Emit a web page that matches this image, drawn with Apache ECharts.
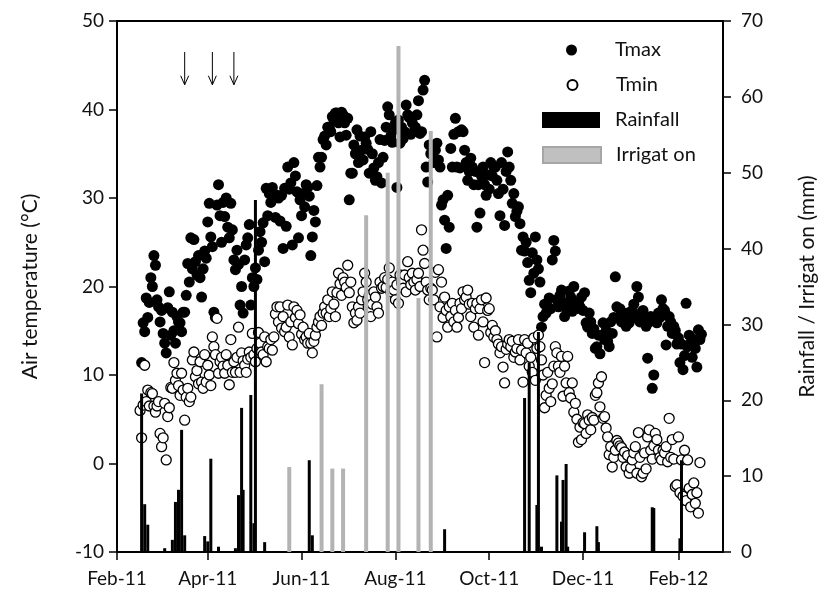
<!DOCTYPE html>
<html><head><meta charset="utf-8">
<script src="https://cdn.jsdelivr.net/npm/echarts@6/dist/echarts.min.js"></script>
<style>html,body{margin:0;padding:0;background:#fff}#c{width:827px;height:600px}</style>
</head><body><div id="c"></div>
<script>
// Day offsets are counted from 1 Feb 2011
const xTickDays = [0, 59, 120, 181, 242, 303, 365];
const xTickLabels = ['Feb-11', 'Apr-11', 'Jun-11', 'Aug-11', 'Oct-11', 'Dec-11', 'Feb-12'];
const xMaxDay = 394;

const tmaxStartDay = 16;
const tmax = [
  11.4, 15.9, 14.9, 18.7, 16.5, 18.2, 21, 20, 23.5, 22.4,
  18.5, 17.7, 16, 17.3, 14.7, 13.6, 12.5, 17.6, 19.4, 14.5,
  17.1, 15, 13.6, 16.6, 16, 15.9, 14.9, 17.1, 17.1, 19,
  22.6, 20.5, 25.5, 22, 25.3, 22.8, 21.3, 23.5, 21, 18.8,
  22, 24, 23.2, 27.3, 29.4, 25.6, 24.5, 17.1, 16.5, 29.2,
  31.5, 28, 25, 29.5, 27.9, 30, 26.7, 25.5, 29.4, 26.4,
  23, 21.9, 24.1, 22.5, 17.9, 20, 17, 23, 24.7, 25.5,
  27, 17.9, 21, 20, 22.1, 20.8, 24.1, 26.2, 25, 27.2,
  22.8, 31.1, 28, 30.5, 29.5, 31.2, 30, 27.8, 30.3,
  30, 27.4, 30.3, 24.3, 31.1, 26.8, 33.5, 31, 31.7, 24.7,
  34, 32.5, 30.7, 25.5, 29.8, 28, 30.5, 29, 31.5, 31.2,
  30.2, 23.5, 25.6, 28.6, 27.3, 31.4, 34.6, 33.5, 34.6, 36.6,
  37, 36, 38, 38, 37.5, 39.2, 38.8, 39.6, 39.6, 38.5,
  36.9, 39.7, 39.4, 38.5, 37.1, 39, 29.8, 32.8, 32.8, 36,
  35, 37.7, 34, 37, 35.4, 34.3, 36.9, 36.2, 35.5, 32.8,
  37.5, 35, 33.4, 32, 32.4, 34, 36.6, 31.7, 34.6, 36.5,
  38, 40.3, 39.4, 37, 36.3, 37.7, 38.5, 31.2, 38.8, 36.2,
  38, 36.7, 37.5, 40.5, 39.4, 39.1, 37.2, 38.5, 37.5, 38,
  39.4, 41, 37.3, 37.5, 42.2, 43.3, 33.5, 31.8, 36, 35,
  35.8, 34, 35.4, 36.2, 34.3, 33.5, 29.2, 29.8, 27.5, 24.3,
  30.3, 26.7, 35.6, 33.5, 37.2, 39, 33.5, 37.5, 33.4, 37.7,
  37.5, 35.4, 34, 32, 33, 34.5, 33.5, 31.5, 33, 26.7,
  31.5, 28.3, 32.5, 33.5, 31.5, 30.3, 32.6, 31, 34, 32.5,
  33.5, 33.5, 32, 30.5, 28, 34, 31, 26.9, 33, 35.2,
  33.5, 32, 29.4, 30.5, 27.9, 28.5, 29, 27.1, 24.1, 25.6,
  24, 25, 22.7, 20.7, 19.3, 23.8, 21.5, 25.6, 23, 22,
  20.5, 15.4, 16.6, 18, 17, 17.7, 18.7, 17.5, 23, 25.2,
  24, 18.5, 17.7, 19, 19.6, 18.2, 16.6, 17.5, 18, 19.5,
  18.8, 17.2, 20, 18, 17.5, 18.2, 17.7, 18.8, 17.3, 19.3,
  15.9, 15.4, 17, 16, 14.7, 15.2, 13, 13.2, 14.5, 12.4,
  14.5, 15.9, 14, 15, 13.8, 13.2, 16, 14.7, 16.5, 21.1,
  17.7, 16.5, 17.5, 16, 17, 16.2, 15.5, 17, 15.9, 16.8,
  17.3, 18, 16.5, 20, 18.8, 16, 17, 17.3, 16.5, 15.5,
  11.9, 16, 16.6, 8.5, 10, 16.2, 15.9, 17, 16.5, 18.5,
  17.5, 17.3, 13.4, 15.5, 16.6, 16, 14.7, 15.5, 15, 13.5,
  14.2, 11.4, 13.5, 10.6, 12.2, 18.1, 13.2, 14.5, 13.6, 12,
  14, 13, 10.9, 15.1, 14, 14.6
];

const tminStartDay = 15;
const tmin = [
  6, 2.9, 6.6, 11.1, 7, 8.3, 6.5, 8, 7.9, 6.5,
  5.8, 6.5, 7, 3.4, 1.9, 2.9, 6.8, 0.4, 5.3, 6.3,
  8.6, 8.5, 11.4, 9.4, 10.2, 8.8, 7.7, 10.2, 8.3, 4.9,
  7.5, 8.5, 7, 7.5, 11.7, 12.6, 9.8, 10.5, 9, 11.5,
  9.2, 8.5, 12.3, 9.2, 11.1, 10, 8.8, 14.3, 13.2, 12.3,
  16.4, 10.2, 11.5, 12, 11, 10.2, 12.3, 11.1, 8.9, 14,
  10.3, 11.5, 10.3, 12, 15.4, 10.3, 12.5, 11.6, 11.1, 10.3,
  11.8, 12.6, 12, 14.7, 12.3, 11.5, 13, 14.8, 13.6, 12.6,
  12.3, 14.3, 11.5, 13.2, 13, 14, 12.8, 14.3, 16.9, 17.7,
  16, 17.7, 15.3, 16.6, 14.9, 15.4, 17.9, 14.3, 16, 13.4,
  17.7, 16.5, 17.3, 15.8, 16.8, 14.6, 15.4, 14, 14.3, 13.6,
  14.7, 13.6, 12.5, 13.8, 14.5, 15.4, 16, 16.6, 15.6, 17,
  17.7, 17, 18.5, 16.6, 17.5, 19.4, 18, 16.6, 19.3, 21.5,
  20.3, 19, 21, 20.5, 19.9, 22.4, 19.3, 20.5, 17.7, 15.9,
  17, 16.2, 17.7, 17, 18.5, 19.4, 21.5, 20.5, 18.5, 19,
  16.6, 18, 19.4, 18.8, 17.7, 17, 20.5, 19.8, 20, 21,
  19.9, 20.8, 22.1, 19.4, 20.5, 19.6, 18.5, 20.2, 18.1, 21.3,
  20.4, 19.8, 21.3, 19.4, 22.8, 21, 20.2, 21.5, 20.5, 19.6,
  20.8, 21.5, 20, 26.4, 24.1, 22.6, 20.5, 19.6, 18.5, 19.8,
  19.6, 18.5, 21.6, 14.3, 21.9, 17.7, 20.5, 16.5, 18.8, 17.3,
  15.4, 17.7, 16.6, 18.1, 16, 17.3, 15.4, 16.5, 18.1, 17.5,
  19.4, 18.5, 18.8, 19.6, 18, 16.6, 18.1, 15.4, 17.5, 18.1,
  14.5, 17.5, 18.5, 16, 11.4, 18.7, 17.3, 17.5, 14.8, 15.6,
  14.3, 15, 14, 13.5, 12.5, 13.2, 10.9, 9.1, 12.9, 13.5,
  14, 13.2, 13.8, 12, 12.6, 13, 14, 11.7, 12.8, 9.2,
  14, 12.5, 13.6, 11, 12, 10.3, 14.2, 9.4, 13, 14.5,
  13.2, 11.7, 10, 6.3, 7.7, 10.3, 8.5, 7, 9, 11,
  13.2, 12.5, 11, 10.3, 12.1, 7.6, 11, 9.1, 12.1, 8,
  7.4, 9.1, 5.8, 6.8, 5, 2.4, 4.1, 2.7, 4.6, 4.5,
  3.4, 5.5, 4.9, 3.8, 5.2, 4.9, 7.7, 8, 9.1, 6.4,
  9.8, 5.1, 5.3, 4, 3, 1, 1.9, -0.4, 0.7, 1.5,
  2.6, 2.3, 2, 1.8, 0.7, 1.3, -0.4, 0.9, -1.1, -0.5,
  0.4, 1.2, 1.9, -1.1, 3.5, 0.7, -1.5, -1.1, 1.2, -0.6,
  3, 3.8, 1.5, 0.5, 2, 3.4, 2.7, 1.5, 0.7, 0.4,
  1.5, 1.2, 1.9, 0.2, 5.1, 0.7, 2.7, 0.5, -2.6, -2.4,
  3, -3.3, 0.4, -3.7, 1.5, -4.2, 0.4, -2.8, -4.9, -3.5,
  -2.2, -4.5, -3.3, -5.6, 0.1
];

const rainDays = [16, 18, 20, 31, 36, 38, 40, 42, 44, 57, 59, 61, 66, 77, 79, 81, 82, 87, 89, 90, 96,
  125, 127, 213, 265, 268, 273, 274, 276, 286, 289, 290, 292, 293, 304, 312, 313, 348, 349, 366, 367];
const rainMm = [20.9, 6.3, 3.6, 0.5, 1.6, 6.6, 8.2, 16.1, 2.2, 2.1, 1.4, 12.3, 0.7, 0.5, 7.5, 19, 8.2, 20.7, 3.8, 46.4, 1.3,
  12.1, 2.2, 3, 20.3, 25, 6.2, 29, 0.7, 10.1, 4, 9.5, 11.6, 0.7, 2.6, 3.4, 1.3, 5.9, 5.8, 1.8, 12.1];

const irrDays = [112, 133, 140, 147, 162, 176, 183, 196, 204];
const irrMm = [11.2, 22.1, 11, 11, 44.4, 50, 66.7, 33.5, 55.5];

const arrowDays = [44, 62, 76];
const arrowTemps = [46.5, 42.8]; // top, tip

const FONT = 'Lato';
const TXT = '#111';

const tmaxData = tmax.map((v, i) => [tmaxStartDay + i, v]);
const tminData = tmin.map((v, i) => [tminStartDay + i, v]);
const rainData = rainDays.map((d, i) => [d, rainMm[i]]);
const irrData = irrDays.map((d, i) => [d, irrMm[i]]);

const chart = echarts.init(document.getElementById('c'), null, {renderer: 'canvas'});

const legendBase = {
  orient: 'vertical', padding: 0, selectedMode: false,
  textStyle: {fontFamily: FONT, fontSize: 20, color: TXT, lineHeight: 20}
};

chart.setOption({
  animation: false,
  backgroundColor: '#fff',
  grid: {left: 117, right: 104, top: 21, bottom: 48, show: true, borderColor: '#000', borderWidth: 2, backgroundColor: 'transparent'},
  legend: [
    Object.assign({}, legendBase, {data: [{name: 'Tmax', icon: 'circle'}], left: 566, top: 40, itemWidth: 11, itemHeight: 11,
      textStyle: Object.assign({}, legendBase.textStyle, {padding: [0, 0, 0, 33]})}),
    Object.assign({}, legendBase, {data: [{name: 'Tmin', icon: 'circle'}], left: 566.5, top: 75, itemWidth: 10, itemHeight: 10,
      textStyle: Object.assign({}, legendBase.textStyle, {padding: [0, 0, 0, 33.5]})}),
    Object.assign({}, legendBase, {data: [{name: 'Rainfall', icon: 'rect'}], left: 542, top: 110, itemWidth: 58, itemHeight: 16,
      textStyle: Object.assign({}, legendBase.textStyle, {padding: [0, 0, 0, 10]})}),
    Object.assign({}, legendBase, {data: [{name: 'Irrigat on', icon: 'rect', itemStyle: {color: '#c0c0c0', borderColor: '#a6a6a6', borderWidth: 2}}],
      left: 542, top: 145, itemWidth: 58, itemHeight: 16,
      textStyle: Object.assign({}, legendBase.textStyle, {padding: [0, 0, 0, 10]})})
  ],
  xAxis: [{
    type: 'value', min: 0, max: xMaxDay,
    axisLine: {show: true, onZero: false, lineStyle: {color: '#000', width: 2}},
    axisTick: {show: true, inside: false, length: 8, lineStyle: {color: '#000', width: 1.5}, customValues: xTickDays},
    axisLabel: {customValues: xTickDays, formatter: v => xTickLabels[xTickDays.indexOf(v)] || '',
      fontFamily: FONT, fontSize: 19, color: TXT, margin: 17},
    splitLine: {show: false}
  }, {
    type: 'value', min: 0, max: xMaxDay, show: false
  }],
  yAxis: [{
    type: 'value', min: -10, max: 50, interval: 10, position: 'left',
    name: 'Air temperature (°C)', nameLocation: 'middle', nameGap: 76, nameRotate: 90,
    nameTextStyle: {fontFamily: FONT, fontSize: 21, color: TXT},
    axisLine: {show: true, onZero: false, lineStyle: {color: '#000', width: 2}},
    axisTick: {show: true, inside: false, length: 8, lineStyle: {color: '#000', width: 1.5}},
    axisLabel: {fontFamily: FONT, fontSize: 19, color: TXT, margin: 13},
    splitLine: {show: false}
  }, {
    type: 'value', min: 0, max: 70, interval: 10, position: 'right',
    name: 'Rainfall / Irrigat on (mm)', nameLocation: 'middle', nameGap: 74, nameRotate: 90,
    nameTextStyle: {fontFamily: FONT, fontSize: 21, color: TXT},
    axisLine: {show: true, onZero: false, lineStyle: {color: '#000', width: 2}},
    axisTick: {show: true, inside: false, length: 8, lineStyle: {color: '#000', width: 1.5}},
    axisLabel: {fontFamily: FONT, fontSize: 19, color: TXT, margin: 18},
    splitLine: {show: false}
  }],
  series: [
    {name: 'Tmax', type: 'scatter', xAxisIndex: 0, yAxisIndex: 0, symbol: 'circle', symbolSize: 11,
      itemStyle: {color: '#000', opacity: 1}, data: tmaxData, z: 2},
    {name: 'Tmin', type: 'scatter', xAxisIndex: 0, yAxisIndex: 0, symbol: 'circle', symbolSize: 10,
      itemStyle: {color: '#fff', borderColor: '#000', borderWidth: 1.3, opacity: 1}, data: tminData, z: 3},
    {name: 'Rainfall', type: 'bar', xAxisIndex: 0, yAxisIndex: 1, barWidth: 3,
      itemStyle: {color: '#000'}, data: rainData, z: 4},
    {name: 'Irrigat on', type: 'bar', xAxisIndex: 1, yAxisIndex: 1, barWidth: 4,
      itemStyle: {color: '#b3b3b3'}, data: irrData, z: 4}
  ]
});

// arrow annotations placed through the axes
const gfx = [];
arrowDays.forEach(d => {
  const top = chart.convertToPixel({xAxisIndex: 0, yAxisIndex: 0}, [d, arrowTemps[0]]);
  const tip = chart.convertToPixel({xAxisIndex: 0, yAxisIndex: 0}, [d, arrowTemps[1]]);
  gfx.push({type: 'line', shape: {x1: top[0], y1: top[1], x2: tip[0], y2: tip[1]}, style: {stroke: '#000', lineWidth: 1}, z: 10});
  gfx.push({type: 'polyline', shape: {points: [[tip[0] - 4, tip[1] - 9], [tip[0], tip[1]], [tip[0] + 4, tip[1] - 9]]},
    style: {stroke: '#000', lineWidth: 1, fill: null}, z: 10});
});
chart.setOption({graphic: gfx});
</script></body></html>
